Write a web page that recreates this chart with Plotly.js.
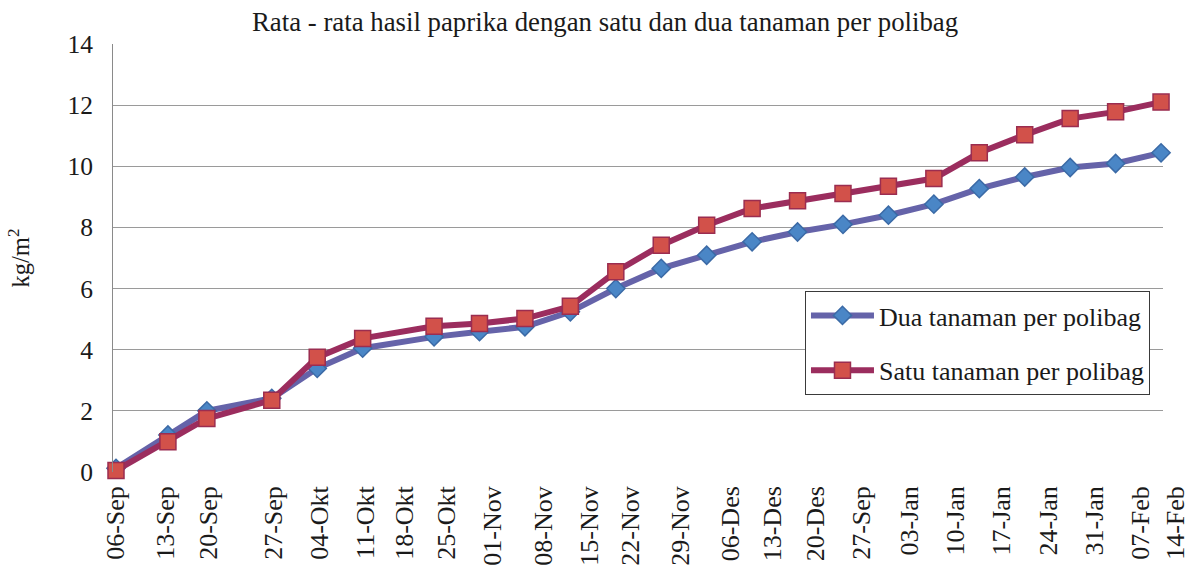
<!DOCTYPE html>
<html>
<head>
<meta charset="utf-8">
<script src="https://cdn.plot.ly/plotly-3.0.1.min.js"></script>
<style>html,body{margin:0;padding:0;background:#fff;}#chart{width:1192px;height:568px;}</style>
</head>
<body>
<div id="chart"></div>
<script>
// Harvest day (days after 06-Sep) of each weighing
const harvestDay = [0, 8, 14, 24, 31, 38, 49, 56, 63, 70, 77, 84, 91, 98, 105, 112, 119, 126, 133, 140, 147, 154, 161];
// Cumulative yield, kg/m2
const duaTanaman  = [0.12, 1.21, 2.00, 2.41, 3.39, 4.05, 4.42, 4.59, 4.75, 5.24, 6.00, 6.66, 7.09, 7.53, 7.85, 8.10, 8.40, 8.76, 9.27, 9.65, 9.96, 10.09, 10.44];
const satuTanaman = [0.05, 0.99, 1.75, 2.35, 3.75, 4.37, 4.77, 4.86, 5.02, 5.42, 6.55, 7.42, 8.07, 8.62, 8.87, 9.11, 9.35, 9.60, 10.44, 11.03, 11.56, 11.78, 12.10];
// Axis tick labels as printed in the original figure, and where they sit (in days)
const tickLabels = ['06-Sep','13-Sep','20-Sep','27-Sep','04-Okt','11-Okt','18-Okt','25-Okt','01-Nov','08-Nov','15-Nov','22-Nov','29-Nov','06-Des','13-Des','20-Des','27-Sep','03-Jan','10-Jan','17-Jan','24-Jan','31-Jan','07-Feb','14-Feb'];
const tickDays   = [0, 7.7, 14.3, 24.2, 31.3, 38.4, 44.5, 50.9, 58.0, 65.8, 73.0, 79.3, 87.0, 94.7, 101.1, 107.7, 114.9, 122.2, 129.3, 136.5, 143.7, 150.8, 157.8, 163.3];
const seriesNames = ['Dua tanaman per polibag', 'Satu tanaman per polibag'];
const yTicks = [0, 2, 4, 6, 8, 10, 12, 14];

const FONT = 'Liberation Serif';

const traces = [
  {
    x: harvestDay, y: duaTanaman, name: seriesNames[0], type: 'scatter', mode: 'lines+markers',
    line: {color: '#6563A9', width: 6},
    marker: {symbol: 'diamond', size: 14, color: '#4A86C6', line: {color: '#3B6AA6', width: 1.5}},
    cliponaxis: false, legendgroup: 'a'
  },
  {
    x: harvestDay, y: satuTanaman, name: seriesNames[1], type: 'scatter', mode: 'lines+markers',
    line: {color: '#9B2D5E', width: 6},
    marker: {symbol: 'square', size: 16, color: '#D2514A', line: {color: '#9B2D50', width: 1.5}},
    cliponaxis: false, legendgroup: 'b'
  },
  {
    // carrier for the printed date labels (no visible marks)
    x: tickDays, y: tickDays.map(() => null), xaxis: 'x2', yaxis: 'y2',
    type: 'scatter', mode: 'none', showlegend: false, hoverinfo: 'skip'
  }
];

const layout = {
  width: 1192, height: 568,
  paper_bgcolor: '#fff', plot_bgcolor: 'rgba(0,0,0,0)',
  margin: {l: 113, r: 5, t: 44, b: 96},
  font: {family: FONT, size: 25, color: '#1a1a1a'},
  title: {
    text: 'Rata - rata hasil paprika dengan satu dan dua tanaman per polibag',
    font: {family: FONT, size: 26.8, color: '#1a1a1a'},
    x: 0.5076, xanchor: 'center', y: 0.962, yanchor: 'middle'
  },
  xaxis: {
    domain: [0, 0.97765], range: [-0.462, 161.30],
    showticklabels: false, showgrid: false, zeroline: false, showline: false, ticks: ''
  },
  xaxis2: {
    domain: [0, 1], anchor: 'y2', range: [-0.462, 165.0],
    tickmode: 'array', tickvals: tickDays, ticktext: tickLabels, tickangle: -90,
    showgrid: false, zeroline: false, showline: false, ticks: '',
    ticklabelstandoff: 8,
    tickfont: {family: FONT, size: 26, color: '#1a1a1a'}
  },
  yaxis: {
    range: [0, 14], tickmode: 'array', tickvals: yTicks,
    showgrid: true, gridcolor: '#9a9a9a', gridwidth: 1,
    zeroline: false, showline: true, linecolor: '#8a8a8a', linewidth: 1,
    ticks: '', ticklabelstandoff: 14,
    tickfont: {family: FONT, size: 25.5, color: '#1a1a1a'},
    title: {text: 'kg/m<sup>2</sup>', font: {family: FONT, size: 24.5, color: '#1a1a1a'}, standoff: 30}
  },
  yaxis2: {
    domain: [0, 1], anchor: 'x2', range: [0, 14],
    showgrid: false, zeroline: false, showline: false, showticklabels: false, ticks: ''
  },
  showlegend: true,
  legend: {
    x: 0.6443, y: 0.4229, xanchor: 'left', yanchor: 'top',
    bgcolor: '#fff', bordercolor: '#3a3a3a', borderwidth: 1,
    font: {family: FONT, size: 26, color: '#1a1a1a'},
    itemwidth: 63, tracegroupgap: 18, traceorder: 'grouped'
  }
};

Plotly.newPlot('chart', traces, layout, {displayModeBar: false, staticPlot: true});
</script>
</body>
</html>
